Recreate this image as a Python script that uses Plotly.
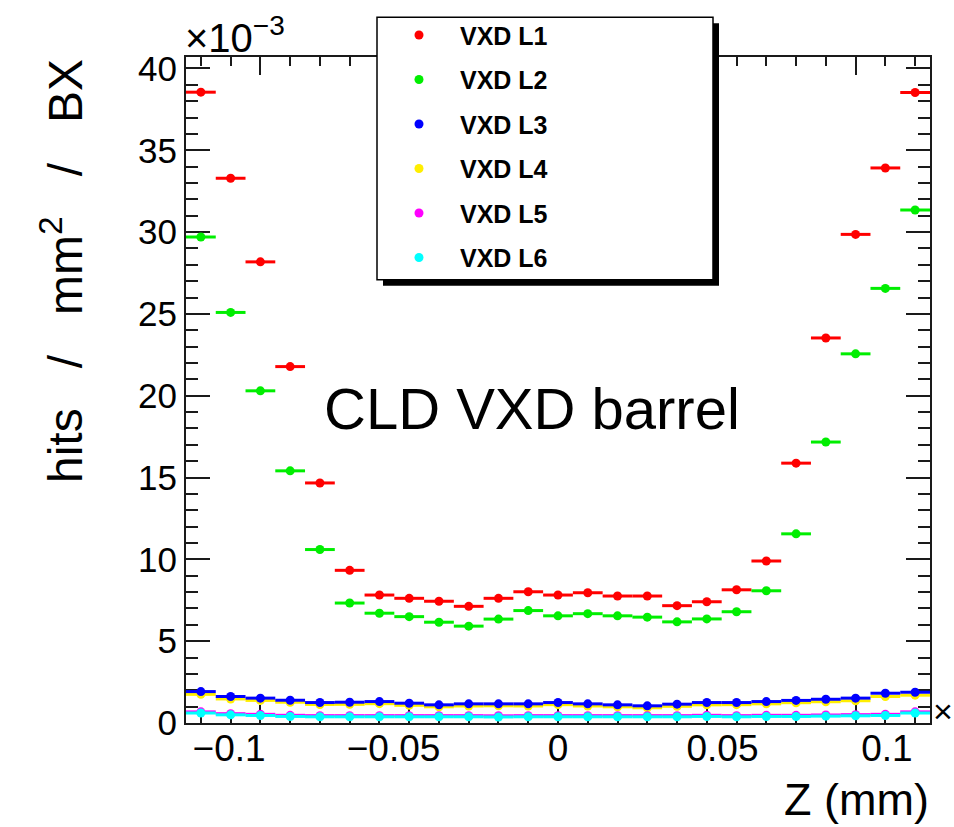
import plotly.graph_objects as go

# Bin centres along z (bins are 10 wide, axis spans -125 .. 125)
z_centres = [-120, -110, -100, -90, -80, -70, -60, -50, -40, -30, -20, -10, 0,
             10, 20, 30, 40, 50, 60, 70, 80, 90, 100, 110, 120]
bin_half_width = 5

# Hit densities in units of 1e-3 hits / mm^2 / BX
vxd_l1 = [38.55, 33.29, 28.18, 21.78, 14.67, 9.33, 7.82, 7.62, 7.44, 7.13, 7.62, 8.02, 7.82,
          7.96, 7.76, 7.76, 7.17, 7.41, 8.14, 9.90, 15.88, 23.53, 29.86, 33.92, 38.53]
vxd_l2 = [29.70, 25.09, 20.30, 15.41, 10.60, 7.33, 6.71, 6.50, 6.16, 5.92, 6.35, 6.87, 6.55,
          6.68, 6.55, 6.47, 6.18, 6.36, 6.80, 8.08, 11.56, 17.17, 22.56, 26.56, 31.35]
vxd_l3 = [1.92, 1.62, 1.52, 1.39, 1.25, 1.27, 1.31, 1.21, 1.11, 1.17, 1.17, 1.17, 1.25,
          1.17, 1.11, 1.05, 1.15, 1.25, 1.25, 1.31, 1.38, 1.45, 1.52, 1.82, 1.88]
vxd_l4 = [1.75, 1.47, 1.38, 1.27, 1.13, 1.14, 1.18, 1.08, 0.99, 1.04, 1.05, 1.04, 1.12,
          1.04, 0.99, 0.93, 1.02, 1.11, 1.12, 1.17, 1.24, 1.30, 1.36, 1.62, 1.70]
vxd_l5 = [0.68, 0.57, 0.53, 0.47, 0.45, 0.45, 0.45, 0.45, 0.45, 0.45, 0.44, 0.45, 0.45,
          0.45, 0.45, 0.45, 0.45, 0.47, 0.45, 0.47, 0.47, 0.49, 0.51, 0.53, 0.68]
vxd_l6 = [0.61, 0.50, 0.46, 0.40, 0.38, 0.38, 0.38, 0.38, 0.38, 0.38, 0.37, 0.38, 0.38,
          0.38, 0.38, 0.38, 0.38, 0.40, 0.38, 0.40, 0.40, 0.42, 0.44, 0.46, 0.61]

layer_names = ["VXD L1", "VXD L2", "VXD L3", "VXD L4", "VXD L5", "VXD L6"]
layer_values = [vxd_l1, vxd_l2, vxd_l3, vxd_l4, vxd_l5, vxd_l6]
layer_colors = ["#ff0000", "#00ee00", "#0000ff", "#ffee00", "#ff00ff", "#00ffff"]
draw_order = [0, 1, 3, 2, 4, 5]   # L3 drawn over L4

# bottom axis labels
z_label_vals = [-0.1, -0.05, 0, 0.05, 0.1]
z_label_text = ["\u22120.1", "\u22120.05", "0", "0.05", "0.1"]

FONT = "Liberation Sans, Arial, Helvetica, sans-serif"
AXC = "#1a1a1a"

W, H = 954, 827
L, R, T, B = 186, 930, 53, 723


def px_x(px):
    return (px - L) / (R - L)


def px_y(py):
    return (B - py) / (B - T)


fig = go.Figure()
for i in draw_order:
    fig.add_trace(go.Scatter(
        x=z_centres, y=layer_values[i], name=layer_names[i], mode="markers",
        legendrank=i + 1, legendgroup=layer_names[i],
        marker=dict(color=layer_colors[i], size=9, line=dict(width=0)),
        error_x=dict(type="constant", value=bin_half_width, color=layer_colors[i],
                     thickness=3, width=0),
        hoverinfo="x+y+name",
    ))

# carrier for the labelled bottom scale
fig.add_trace(go.Scatter(x=[], y=[], xaxis="x2", yaxis="y", showlegend=False,
                         hoverinfo="skip"))

fig.update_layout(
    width=W, height=H, autosize=False,
    margin=dict(l=L, r=W - R, t=T, b=H - B, pad=0),
    paper_bgcolor="white", plot_bgcolor="white",
    font=dict(family=FONT, color="black"),
    xaxis=dict(
        range=[-125, 125], showgrid=False, zeroline=False,
        showline=True, linecolor=AXC, linewidth=2, mirror="ticks",
        ticks="inside", ticklen=18, tickwidth=2, tickcolor=AXC,
        tickmode="linear", tick0=0, dtick=50,
        minor=dict(ticks="inside", ticklen=9, tickwidth=2, tickcolor=AXC, dtick=10, tick0=0),
        showticklabels=False, layer="below traces",
    ),
    xaxis2=dict(
        overlaying="x", anchor="y", side="bottom",
        range=[-0.1131, 0.1131], showgrid=False, zeroline=False, showline=False,
        ticks="", tickmode="array", tickvals=z_label_vals, ticktext=z_label_text,
        tickfont=dict(size=37, family=FONT, color="black"),
    ),
    yaxis=dict(
        range=[0, 40.7], showgrid=False, zeroline=False,
        showline=True, linecolor=AXC, linewidth=2, mirror="ticks",
        ticks="inside", ticklen=24, tickwidth=2, tickcolor=AXC,
        tickmode="linear", tick0=0, dtick=5,
        minor=dict(ticks="inside", ticklen=12, tickwidth=2, tickcolor=AXC, dtick=1, tick0=0),
        tickfont=dict(size=35, family=FONT, color="black"),
        layer="below traces",
    ),
    legend=dict(
        x=px_x(378), y=px_y(8), xanchor="left", yanchor="top",
        bgcolor="rgba(0,0,0,0)", borderwidth=0,
        font=dict(size=25, family=FONT, color="black", weight="bold"),
        tracegroupgap=9, itemsizing="trace", itemwidth=72,
    ),
    showlegend=True,
)

# legend frame with drop shadow
fig.add_shape(type="rect", xref="paper", yref="paper",
              x0=px_x(383), x1=px_x(719), y0=px_y(283), y1=px_y(19),
              fillcolor="black", line=dict(width=0), layer="above")
fig.add_shape(type="rect", xref="paper", yref="paper",
              x0=px_x(377), x1=px_x(713), y0=px_y(277), y1=px_y(13),
              fillcolor="white", line=dict(color="black", width=1.5), layer="above")

nb = "\u00a0"
annotations = [
    dict(text=f"hits{nb*3}/{nb*3}mm<sup>2</sup>{nb*3}/{nb*3}BX", textangle=-90,
         x=px_x(62), y=px_y(53), xanchor="center", yanchor="top", font=dict(size=48)),
    dict(text="\u00d710<sup>\u22123</sup>", x=px_x(183), y=px_y(58),
         xanchor="left", yanchor="bottom", font=dict(size=40)),
    dict(text="Z (mm)", x=px_x(931), y=px_y(772), xanchor="right", yanchor="top",
         font=dict(size=45)),
    dict(text="CLD VXD barrel", x=px_x(532), y=px_y(407), xanchor="center",
         yanchor="middle", font=dict(size=58)),
    dict(text="\u00d7", x=px_x(931), y=px_y(711), xanchor="left", yanchor="middle",
         font=dict(size=34)),
]
for a in annotations:
    a.update(xref="paper", yref="paper", showarrow=False)
    a["font"] = dict(family=FONT, color="black", **a["font"])
    fig.add_annotation(**a)

fig.write_html("out.html")
